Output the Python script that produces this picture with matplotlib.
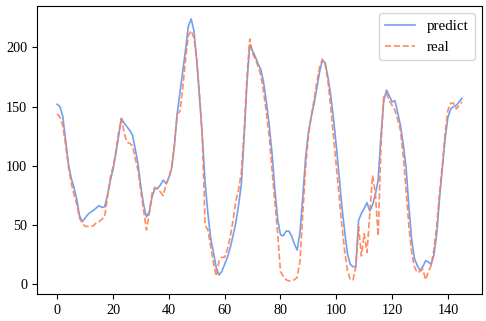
import numpy as np
import matplotlib
matplotlib.use("Agg")
import matplotlib.pyplot as plt

plt.rcParams['font.family'] = ['Liberation Serif', 'DejaVu Serif']

# values, one per time step
predict = [152, 150, 142, 122, 102, 90, 82, 72, 58, 53,
           56, 59, 61, 62.5, 64.5, 66.5, 65, 65.5, 75, 87,
           97, 110, 125, 140, 136, 133, 130, 126, 114, 101,
           82, 67, 57, 61, 74, 81, 81, 84, 88, 85,
           90, 98, 117, 144, 162, 180, 198, 218, 224, 214,
           189, 158, 125, 86, 60, 39, 27, 14, 8, 11,
           17, 23, 31, 41, 52, 67, 85, 125, 170, 202,
           197, 192, 186, 181, 170, 153, 134, 110, 80, 55,
           42, 41, 45, 45, 41, 34, 29, 44, 74, 107,
           128, 141, 152, 165, 179, 189, 187, 175, 160, 140,
           117, 92, 66, 45, 26, 17, 15, 15, 54, 60,
           64, 69, 62, 67, 76, 88, 125, 155, 164, 159,
           154, 155, 145, 134, 118, 99, 66, 38, 22, 16,
           12, 15, 20, 19, 17, 25, 43, 73, 98, 123,
           141, 148, 150, 151, 154, 157]

real = [144, 141, 134, 118, 100, 86, 76, 68, 56, 52,
        49, 49, 49, 49.5, 52, 53, 55, 57, 73, 90,
        99, 112, 128, 140, 128, 120, 119, 117, 106, 96,
        78, 62, 46, 60, 77, 82, 80, 78, 75, 84,
        90, 98, 118, 144, 146, 166, 190, 210, 214, 208,
        190, 160, 125, 50, 46, 32, 18, 7, 20, 23,
        23, 30, 40, 54, 70, 80, 95, 130, 175, 207,
        195, 190, 184, 176, 162, 144, 124, 96, 70, 43,
        11, 7, 4, 3, 3, 4, 6, 20, 60, 98,
        125, 142, 155, 170, 183, 190, 186, 172, 150, 125,
        100, 75, 50, 28, 12, 4, 4, 15, 49, 24,
        43, 27, 60, 92, 77, 41, 116, 158, 161, 155,
        151, 147, 139, 130, 108, 80, 49, 27, 15, 10,
        11, 13, 4, 11, 16, 30, 50, 77, 101, 128,
        147, 153, 153, 148, 151, 154]

steps = np.arange(len(predict))

fig = plt.figure(figsize=(4.86, 3.21), dpi=100)
ax = fig.add_axes([0.076, 0.084, 0.916, 0.898])

ax.plot(steps, predict, color='#6495ED', lw=1.2, alpha=0.9, label='predict')
ax.plot(steps, real, color='#FF7F50', lw=1.2, ls='--', alpha=0.9, label='real')

ax.tick_params(labelsize=10.3)
ax.legend(loc='upper right', fontsize=10.8)

fig.savefig('out.png', dpi=100)
